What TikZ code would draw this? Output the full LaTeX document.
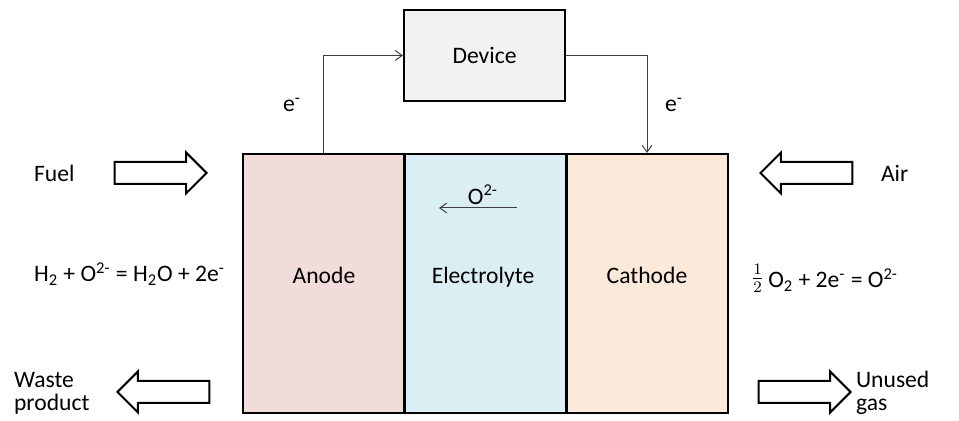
\documentclass[tikz,border=0pt]{standalone}
\usepackage{fontspec}
\setmainfont{Carlito}
\usetikzlibrary{shapes.arrows,arrows.meta}
\definecolor{anodefill}{HTML}{F2DCDB}
\definecolor{electrofill}{HTML}{DAEEF3}
\definecolor{cathodefill}{HTML}{FDE9D9}
\definecolor{devicefill}{HTML}{F2F2F2}
\definecolor{wiregray}{HTML}{404040}
\tikzset{
  cell/.style={draw, line width=1pt, minimum width=80.5pt, minimum height=129.5pt, inner sep=0pt},
  flow/.style={single arrow, draw, line width=1pt, fill=white, minimum height=46pt,
    inner xsep=0pt, inner ysep=5pt, single arrow head extend=4.75pt},
  wire/.style={draw=wiregray, line width=0.5pt, -{Straight Barb[length=3.5pt,width=5pt]}},
}
\begin{document}
\begin{tikzpicture}[x=0.5pt, y=-0.5pt, every node/.append style={font=\fontsize{11.8pt}{11.5pt}\selectfont}]
    \useasboundingbox (0,0) rectangle (959,421);
    % the cell
    \node[cell, fill=anodefill] (anode) at (323.5,283.5) {};
    \node[cell, fill=electrofill] (electrolyte) at (485,283.5) {};
    \node[cell, fill=cathodefill] (cathode) at (647,283.5) {};
    \node[anchor=base] (anodetext) at (324,284) {Anode};
    \node[anchor=base] (electrotext) at (483,284) {Electrolyte};
    \node[anchor=base] (cathodetext) at (647,284) {Cathode};
    % external circuit
    \node[draw, line width=1pt, fill=devicefill, minimum width=80.5pt, minimum height=45.5pt] (device) at (484.5,55.5) {Device};
    \draw[wire] (anode.north) |- (device.west);
    \draw[wire] (device.east) -| (cathode.north);
    \node[anchor=base] (eleft) at (292,112) {e\textsuperscript{-}};
    \node[anchor=base] (eright) at (674,112) {e\textsuperscript{-}};
    % oxide ions
    \coordinate (ionstart) at (517,208);
    \coordinate (ionend) at (439,208);
    \draw[wire] (ionstart) -- (ionend);
    \node (ion) at (483,195) {O\textsuperscript{2-}};
    % gas flows
    \node[flow, anchor=tip] (fuelarrow) at (208,173) {};
    \node[flow, shape border rotate=180, anchor=tip] (airarrow) at (759,173) {};
    \node[flow, shape border rotate=180, anchor=tip] (wastearrow) at (116,392) {};
    \node[flow, anchor=tip] (unusedarrow) at (852,392) {};
    \node[anchor=west] (fuel) at (27,173) {Fuel};
    \node[anchor=west] (air) at (874,173) {Air};
    \node[anchor=west, align=left] (waste) at (7,393) {Waste\\product};
    \node[anchor=west, align=left] (unused) at (849,393) {Unused\\gas};
    % half reactions
    \node[anchor=base west] (anodeeq) at (27,282) {H\textsubscript{2} + O\textsuperscript{2-} = H\textsubscript{2}O + 2e\textsuperscript{-}};
    \node[anchor=base west] (cathodeeq) at (744,288) {\raisebox{1.8pt}{$\frac{1}{2}$}\,O\textsubscript{2} + 2e\textsuperscript{-} = O\textsuperscript{2-}};
\end{tikzpicture}
\end{document}
